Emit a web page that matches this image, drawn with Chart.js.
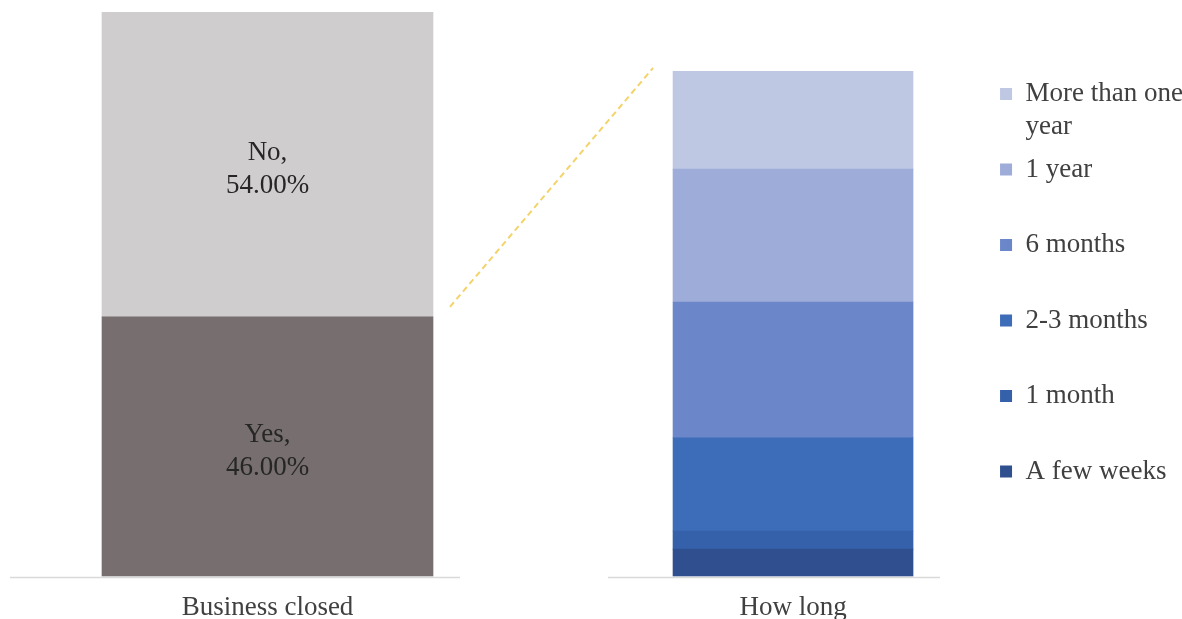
<!DOCTYPE html>
<html><head><meta charset="utf-8">
<script src="https://cdn.jsdelivr.net/npm/chart.js@4.4.1/dist/chart.umd.min.js"></script>
<style>
html,body{margin:0;padding:0;background:#fff;overflow:hidden;}
#wrap{position:relative;width:1182px;height:619px;overflow:hidden;background:#fff;}
canvas{position:absolute;top:0;}
#c1{left:0px;}
#c2{left:440px;}
</style></head><body>
<div id="wrap"><canvas id="c1" width="535" height="640"></canvas><canvas id="c2" width="753" height="640"></canvas></div>
<script>
const closedCategories = ['Business closed'];
const closedSeries = ['Yes', 'No'];
const closedValues = [46, 54];

const durationCategories = ['How long'];
const durationSeries = ['A few weeks', '1 month', '2-3 months', '6 months', '1 year', 'More than one year'];
const durationValues = [5.4, 3.6, 18.5, 26.8, 26.3, 19.4];

const closedColors = ['#776f6f', '#d0cdce'];
const durationColors = ['#2f4f8f', '#3561ab', '#3d6cb9', '#6b87c9', '#9eacd9', '#bec8e3'];
const SERIF = "'Liberation Serif','Times New Roman',serif";
const TEXT_COLOR = '#404040';
const AXIS_COLOR = '#d9d9d9';

function baseline(id, leftExt, rightExt) {
  return {
    id: id,
    afterDatasetsDraw(chart) {
      const el = chart.getDatasetMeta(0).data[0];
      const y = Math.round(chart.chartArea.bottom) + 0.5;
      const ctx = chart.ctx;
      ctx.save();
      ctx.strokeStyle = AXIS_COLOR;
      ctx.lineWidth = 1.5;
      ctx.beginPath();
      ctx.moveTo(el.x - el.width / 2 - leftExt, y);
      ctx.lineTo(el.x + el.width / 2 + rightExt, y);
      ctx.stroke();
      ctx.restore();
    }
  };
}

const segmentLabels = {
  id: 'segmentLabels',
  afterDatasetsDraw(chart) {
    const ctx = chart.ctx;
    ctx.save();
    ctx.font = '27px ' + SERIF;
    ctx.fillStyle = '#262626';
    ctx.textAlign = 'center';
    ctx.textBaseline = 'middle';
    chart.data.datasets.forEach((ds, i) => {
      const el = chart.getDatasetMeta(i).data[0];
      const cy = (el.y + el.base) / 2 + 4.5;
      ctx.fillText(ds.label + ',', el.x, cy - 16.5);
      ctx.fillText(ds.data[0].toFixed(2) + '%', el.x, cy + 16.5);
    });
    ctx.restore();
  }
};

function wrapLabel(ctx, text, maxW) {
  ctx.save();
  ctx.font = '27px ' + SERIF;
  const words = text.split(' ');
  const lines = [];
  let cur = '';
  words.forEach(w => {
    const t = cur ? cur + ' ' + w : w;
    if (cur && ctx.measureText(t).width > maxW) { lines.push(cur); cur = w; }
    else cur = t;
  });
  lines.push(cur);
  ctx.restore();
  while (lines.length < 2) lines.push('');
  return lines;
}

const c1 = document.getElementById('c1');
const c2 = document.getElementById('c2');

const chart1 = new Chart(c1, {
  type: 'bar',
  data: {
    labels: closedCategories,
    datasets: closedSeries.map((s, i) => ({
      label: s, data: [closedValues[i]], backgroundColor: closedColors[i],
      borderWidth: 0, barThickness: 331
    }))
  },
  options: {
    responsive: false, animation: false, devicePixelRatio: 1,
    layout: { padding: { top: 12, bottom: 0.5, left: 0, right: 0 } },
    plugins: { legend: { display: false }, tooltip: { enabled: false } },
    scales: {
      x: { stacked: true, grid: { display: false, drawTicks: false }, border: { display: false },
           ticks: { font: { family: SERIF, size: 27, lineHeight: 1 }, color: TEXT_COLOR, padding: 18 } },
      y: { stacked: true, display: false, min: 0, max: 100 }
    }
  },
  plugins: [segmentLabels, baseline('base1', 92, 27)]
});

const connector = {
  id: 'connector',
  afterDatasetsDraw(chart) {
    const off = c2.offsetLeft - c1.offsetLeft;
    const yes = chart1.getDatasetMeta(0).data[0];
    const top = chart.getDatasetMeta(chart.data.datasets.length - 1).data[0];
    const sx = yes.x + yes.width / 2 + 17 - off, sy = yes.y - 10;
    const ex = top.x - top.width / 2 - 20, ey = top.y - 3;
    const ctx = chart.ctx;
    ctx.save();
    ctx.strokeStyle = '#f3d36a';
    ctx.lineWidth = 2;
    ctx.setLineDash([6, 4]);
    ctx.beginPath();
    ctx.moveTo(sx, sy);
    ctx.lineTo(ex, ey);
    ctx.stroke();
    ctx.restore();
  }
};

const chart2 = new Chart(c2, {
  type: 'bar',
  data: {
    labels: durationCategories,
    datasets: durationSeries.map((s, i) => ({
      label: s, data: [durationValues[i]], backgroundColor: durationColors[i],
      borderWidth: 0, barThickness: 240
    }))
  },
  options: {
    responsive: false, animation: false, devicePixelRatio: 1,
    layout: { padding: { top: 71, bottom: 0.5, left: 155.5, right: 0 } },
    plugins: {
      tooltip: { enabled: false },
      legend: {
        position: 'right', align: 'start', reverse: true,
        labels: {
          boxWidth: 12, boxHeight: 12, padding: 9.5, color: TEXT_COLOR,
          font: { family: SERIF, size: 27, lineHeight: 33 / 27 },
          generateLabels(chart) {
            const items = Chart.defaults.plugins.legend.labels.generateLabels(chart);
            return items.map(it => Object.assign({}, it, {
              text: wrapLabel(chart.ctx, it.text, 160), lineWidth: 0, strokeStyle: 'rgba(0,0,0,0)'
            }));
          }
        }
      }
    },
    scales: {
      x: { stacked: true, grid: { display: false, drawTicks: false }, border: { display: false },
           ticks: { font: { family: SERIF, size: 27, lineHeight: 1 }, color: TEXT_COLOR, padding: 18 } },
      y: { stacked: true, display: false, min: 0, max: 100 }
    }
  },
  plugins: [connector, baseline('base2', 65, 27)]
});
</script>
</body></html>
